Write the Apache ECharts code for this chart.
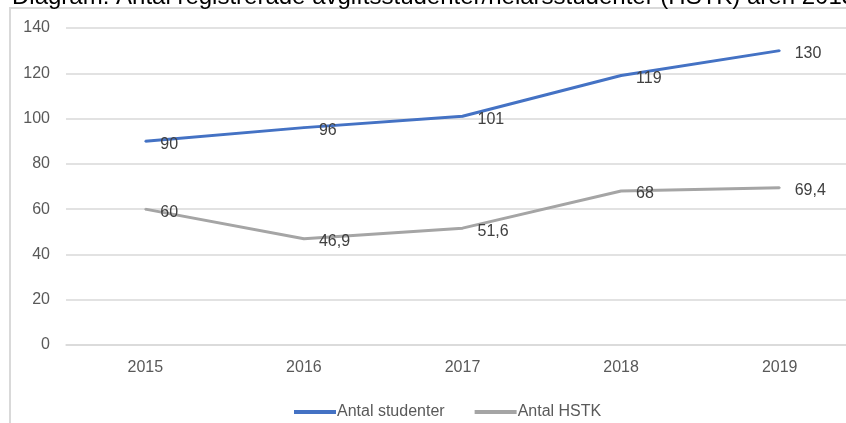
<!DOCTYPE html>
<html>
<head>
<meta charset="utf-8">
<script src="https://cdn.jsdelivr.net/npm/echarts@6/dist/echarts.min.js"></script>
<style>
html,body{margin:0;padding:0;background:#fff;}
#main{width:846px;height:423px;}
</style>
</head>
<body>
<div id="main"></div>
<script>
var years = ['2015', '2016', '2017', '2018', '2019'];//横轴年份
var studenter = [90, 96, 101, 119, 130];//Antal studenter
var hstk = [60, 46.9, 51.6, 68, 69.4];//Antal HSTK
var yTicks = [0, 20, 40, 60, 80, 100, 120, 140];

var txt = '#595959';

// 数据标签，小数用逗号
function labelFmt(p) {
    return String(p.value).replace('.', ',');
}

var myChart = echarts.init(document.getElementById('main'));

var option = {
    animation: false,
    textStyle: {fontFamily: '"Liberation Sans", Arial, sans-serif'},
    title: {
        text: 'Diagram: Antal registrerade avgiftsstudenter/helårsstudenter (HSTK) åren 2015–2019',
        left: 7,
        top: -20,
        textStyle: {fontSize: 24, fontWeight: 'normal', color: '#000'}
    },
    graphic: [{
        type: 'rect',
        z: -1,
        shape: {x: 10, y: 8, width: 900, height: 500},
        style: {fill: 'none', stroke: '#d9d9d9', lineWidth: 2}
    }],
    legend: {
        left: 294,
        top: 404,
        padding: 0,
        icon: 'rect',
        itemWidth: 42,
        itemHeight: 4,
        itemGap: 30,
        textStyle: {color: txt, fontSize: 16, padding: [0, 0, 0, -4]},
        data: ['Antal studenter', 'Antal HSTK']
    },
    grid: {
        left: 66,
        top: 28,
        width: 793,
        height: 317,
        containLabel: false,
        outerBoundsMode: 'none'
    },
    xAxis: {
        type: 'category',
        data: years,
        boundaryGap: true,
        axisLine: {lineStyle: {color: '#d9d9d9', width: 1.5}},
        axisTick: {show: false},
        axisLabel: {color: txt, fontSize: 16, margin: 15}
    },
    yAxis: {
        type: 'value',
        min: yTicks[0],
        max: yTicks[yTicks.length - 1],
        interval: 20,
        axisLine: {show: false},
        axisTick: {show: false},
        axisLabel: {color: txt, fontSize: 16, margin: 16},
        splitLine: {lineStyle: {color: '#d9d9d9', width: 1.5}}
    },
    series: [
        {
            name: 'Antal studenter',
            type: 'line',
            data: studenter,
            symbol: 'circle',
            symbolSize: 2,
            color: '#4472C4',
            lineStyle: {width: 3, color: '#4472C4'},
            label: {
                show: true,
                position: 'right',
                distance: 14,
                offset: [0, 3],
                color: '#404040',
                fontSize: 16,
                formatter: labelFmt
            }
        },
        {
            name: 'Antal HSTK',
            type: 'line',
            data: hstk,
            symbol: 'circle',
            symbolSize: 2,
            color: '#A5A5A5',
            lineStyle: {width: 3, color: '#A5A5A5'},
            label: {
                show: true,
                position: 'right',
                distance: 14,
                offset: [0, 3],
                color: '#404040',
                fontSize: 16,
                formatter: labelFmt
            }
        }
    ]
};
myChart.setOption(option);
</script>
</body>
</html>
